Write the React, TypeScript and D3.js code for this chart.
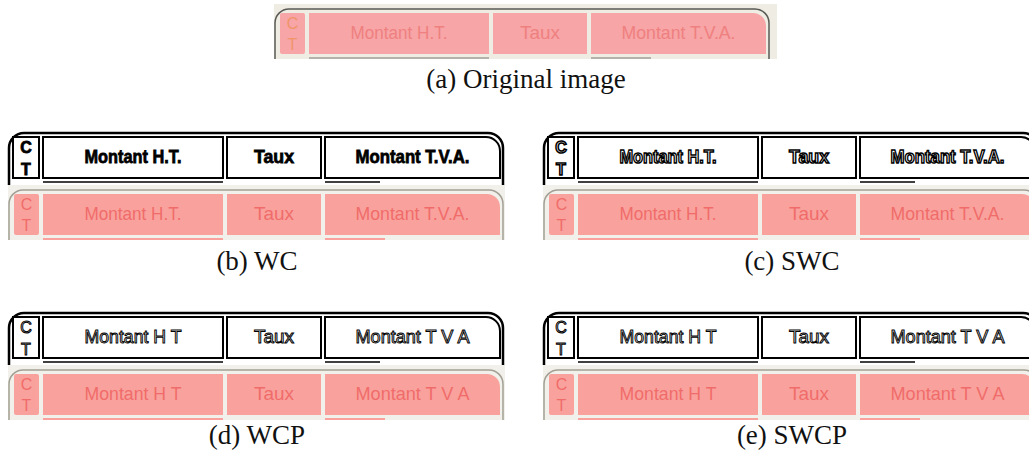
import * as d3 from "d3";

// column headings of the scanned form strip
const columnLabels = ["Montant H.T.", "Taux", "Montant T.V.A."];
const columnLabelsNoDots = ["Montant H T", "Taux", "Montant T V A"];
// relative column widths
const columnSpans = [180, 94, 175];
const rowLetters = ["C", "T"];

const captions = ["(a) Original image", "(b) WC", "(c) SWC", "(d) WCP", "(e) SWCP"];
// how the binarised top strip renders its text
const textModes = ["", "bold", "rough", "outline", "outline"];

const GAP = 4;
const STRIP_W = 497;
const STRIP_H = 55;

const total = d3.sum(columnSpans) + GAP * (columnSpans.length - 1);
const x = d3.scaleLinear().domain([0, total]).range([35, 35 + total]);
const starts = columnSpans.map((_, i) => d3.sum(columnSpans.slice(0, i)) + GAP * i);

const PINK = "#f9a29d";
const PINK_TEXT = "#f06c6a";
const BEIGE = "#f2f0ea";

function roundTopRight(x0: number, y0: number, x1: number, y1: number, r: number) {
  const p = d3.path();
  p.moveTo(x0, y0);
  p.lineTo(x1 - r, y0);
  p.arcTo(x1, y0, x1, y0 + r, r);
  p.lineTo(x1, y1);
  p.lineTo(x0, y1);
  p.closePath();
  return p.toString();
}

function openFrame(x0: number, top: number, x1: number, bottom: number, r: number) {
  const p = d3.path();
  p.moveTo(x0, bottom);
  p.lineTo(x0, top + r);
  p.arcTo(x0, top, x0 + r, top, r);
  p.lineTo(x1 - r, top);
  p.arcTo(x1, top, x1, top + r, r);
  p.lineTo(x1, bottom);
  return p.toString();
}

function labelWidth(s: string) {
  return s.length > 12 ? 114 : s.length > 5 ? 97 : 40;
}

function PinkStrip({ tx, ty, labels, original }: { tx: number; ty: number; labels: string[]; original?: boolean }) {
  const fill = original ? "#f7a5a6" : PINK;
  const txt = original ? "#ef8080" : PINK_TEXT;
  return (
    <g transform={`translate(${tx},${ty})`}>
      <rect x={0} y={0} width={STRIP_W + (original ? 6 : 0)} height={STRIP_H} fill={original ? "#efece4" : BEIGE} />
      <path d={openFrame(1, 5, 495, STRIP_H, 14)} fill="none" stroke={original ? "#5a5a55" : "#a29f94"} strokeWidth={1.5} />
      <rect x={6} y={9} width={25} height={41} rx={2} fill={fill} />
      {rowLetters.map((l, i) => (
        <text key={l} x={18.5} y={25 + i * 21} textAnchor="middle" fontFamily="Liberation Sans" fontSize={16} fill={original ? "#f0946a" : txt}>
          {l}
        </text>
      ))}
      {columnSpans.map((w, i) => {
        const x0 = x(starts[i]);
        const x1 = x(starts[i] + w);
        const last = i === columnSpans.length - 1;
        return (
          <g key={i}>
            {last ? (
              <path d={roundTopRight(x0, 9, x1, 50, 13)} fill={fill} />
            ) : (
              <rect x={x0} y={9} width={x1 - x0} height={41} fill={fill} />
            )}
            <text
              x={(x0 + x1) / 2}
              y={35}
              textAnchor="middle"
              fontFamily="Liberation Sans"
              fontSize={19}
              fill={txt}
              textLength={labelWidth(labels[i])}
              lengthAdjust="spacingAndGlyphs"
            >
              {labels[i]}
            </text>
          </g>
        );
      })}
      <rect x={x(starts[0])} y={53} width={x(starts[0] + columnSpans[0]) - x(starts[0])} height={2} fill={original ? "#b5b2aa" : PINK} />
      <rect x={x(starts[2])} y={53} width={60} height={2} fill={original ? "#b5b2aa" : PINK} />
    </g>
  );
}

function BwStrip({ tx, ty, labels, mode }: { tx: number; ty: number; labels: string[]; mode: string }) {
  const bold = mode === "bold" || mode === "rough";
  const textProps =
    mode === "bold"
      ? { fill: "#000", stroke: "#000", strokeWidth: 0.8 }
      : mode === "rough"
      ? { fill: "#fff", stroke: "#000", strokeWidth: 1.5 }
      : { fill: "#fff", stroke: "#000", strokeWidth: 1 };
  return (
    <g transform={`translate(${tx},${ty})`}>
      <rect x={0} y={0} width={STRIP_W} height={STRIP_H} fill="#fff" />
      <path d={openFrame(1, 3, 495, STRIP_H, 15)} fill="none" stroke="#000" strokeWidth={2.5} />
      <rect x={5} y={7} width={26} height={41} fill="#fff" stroke="#000" strokeWidth={2} />
      {rowLetters.map((l, i) => (
        <text
          key={l}
          x={18}
          y={23 + i * 22}
          textAnchor="middle"
          fontFamily="Liberation Sans"
          fontWeight={bold ? "bold" : "normal"}
          fontSize={16}
          {...textProps}
        >
          {l}
        </text>
      ))}
      {columnSpans.map((w, i) => {
        const x0 = x(starts[i]);
        const x1 = x(starts[i] + w);
        const last = i === columnSpans.length - 1;
        return (
          <g key={i}>
            {last ? (
              <path d={roundTopRight(x0, 7, x1, 48, 14)} fill="#fff" stroke="#000" strokeWidth={2} />
            ) : (
              <rect x={x0} y={7} width={x1 - x0} height={41} fill="#fff" stroke="#000" strokeWidth={2} />
            )}
            <text
              x={(x0 + x1) / 2}
              y={33}
              textAnchor="middle"
              fontFamily="Liberation Sans"
              fontWeight={bold ? "bold" : "normal"}
              fontSize={19}
              textLength={labelWidth(labels[i])}
              lengthAdjust="spacingAndGlyphs"
              {...textProps}
            >
              {labels[i]}
            </text>
          </g>
        );
      })}
      <line x1={x(starts[0])} x2={x(starts[0] + columnSpans[0])} y1={52} y2={52} stroke="#000" strokeWidth={1.5} />
      <line x1={x(starts[2])} x2={x(starts[2]) + 55} y1={52} y2={52} stroke="#000" strokeWidth={1.5} />
    </g>
  );
}

export default function App() {
  const panels = [
    { left: 8, top: 130 },
    { left: 543, top: 130 },
    { left: 8, top: 310 },
    { left: 543, top: 310 },
  ];
  return (
    <svg
      width={1029}
      height={461}
      style={{ position: "absolute", left: 0, top: 0, background: "#fff" }}
    >
      <PinkStrip tx={274} ty={4} labels={columnLabels} original />
      <text x={526} y={88} textAnchor="middle" fontFamily="Liberation Serif" fontSize={27} fill="#111">
        {captions[0]}
      </text>
      {panels.map((p, i) => {
        const labels = i >= 2 ? columnLabelsNoDots : columnLabels;
        return (
          <g key={i}>
            <BwStrip tx={p.left} ty={p.top} labels={labels} mode={textModes[i + 1]} />
            <PinkStrip tx={p.left} ty={p.top + STRIP_H} labels={labels} />
            <text
              x={p.left + 249}
              y={p.top + (i >= 2 ? 134 : 140)}
              textAnchor="middle"
              fontFamily="Liberation Serif"
              fontSize={27}
              fill="#111"
            >
              {captions[i + 1]}
            </text>
          </g>
        );
      })}
    </svg>
  );
}
